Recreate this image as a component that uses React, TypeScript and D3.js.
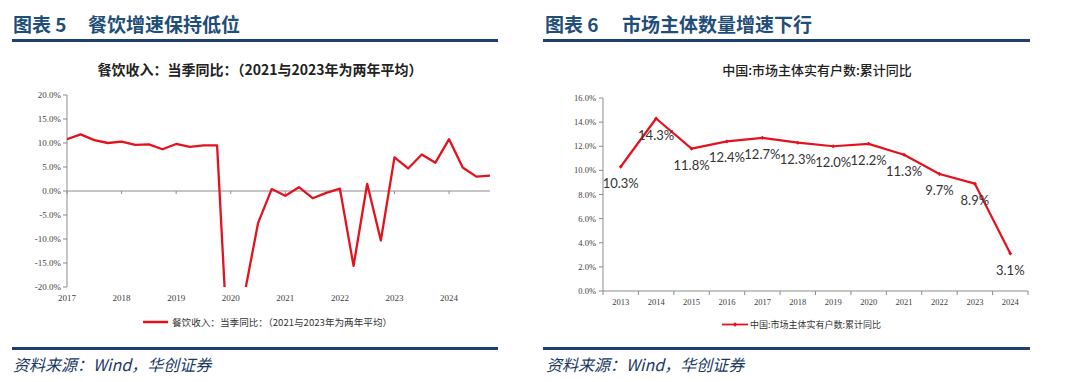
import React from "react";
import * as d3 from "d3";

// ---------- Left chart data ----------
const leftQuarters: string[] = [
  "2017Q1","2017Q2","2017Q3","2017Q4",
  "2018Q1","2018Q2","2018Q3","2018Q4",
  "2019Q1","2019Q2","2019Q3","2019Q4",
  "2020Q1","2020Q2","2020Q3","2020Q4",
  "2021Q1","2021Q2","2021Q3","2021Q4",
  "2022Q1","2022Q2","2022Q3","2022Q4",
  "2023Q1","2023Q2","2023Q3","2023Q4",
  "2024Q1","2024Q2","2024Q3","2024Q4",
];
const leftValues: number[] = [
  10.8, 11.8, 10.6, 10.0,
  10.3, 9.6, 9.7, 8.7,
  9.8, 9.2, 9.5, 9.5,
  -44.3, -21.6, -6.7, 0.4,
  -1.0, 0.8, -1.5, -0.4,
  0.5, -15.6, 1.5, -10.3,
  7.0, 4.7, 7.6, 5.9,
  10.8, 4.9, 3.0, 3.2,
];
const leftYearLabels: string[] = ["2017","2018","2019","2020","2021","2022","2023","2024"];
const leftYTicks: number[] = [20, 15, 10, 5, 0, -5, -10, -15, -20];
const leftTitle = "餐饮收入：当季同比：（2021与2023年为两年平均）";
const leftLegend = "餐饮收入：当季同比：（2021与2023年为两年平均）";

// ---------- Right chart data ----------
const rightYears: string[] = ["2013","2014","2015","2016","2017","2018","2019","2020","2021","2022","2023","2024"];
const rightValues: number[] = [10.3, 14.3, 11.8, 12.4, 12.7, 12.3, 12.0, 12.2, 11.3, 9.7, 8.9, 3.1];
const rightYTicks: number[] = [0, 2, 4, 6, 8, 10, 12, 14, 16];
const rightTitle = "中国:市场主体实有户数:累计同比";
const rightLegend = "中国:市场主体实有户数:累计同比";

const headerLeftNum = "图表 5";
const headerLeftText = "餐饮增速保持低位";
const headerRightNum = "图表 6";
const headerRightText = "市场主体数量增速下行";
const sourceText = "资料来源：Wind，华创证券";

const RED = "#E3121E";
const BLUE_TEXT = "#1F4E79";
const BLUE_RULE = "#1F3F73";
const SOURCE_COLOR = "#203864";
const AXIS = "#8C8C8C";
const LABEL = "#404040";
const SERIF = "'Liberation Serif', 'Noto Sans CJK SC', serif";
const CJK = "'Noto Sans CJK SC', 'Liberation Serif', serif";

function LeftChart() {
  const x0 = 67, x1 = 490, yTop = 95, yBot = 287;
  const x = d3.scaleLinear().domain([0, leftQuarters.length - 1]).range([x0, x1]);
  const y = d3.scaleLinear().domain([-20, 20]).range([yBot, yTop]);
  const line = d3.line<number>().x((_, i) => x(i)).y((d) => y(d));
  const fmt = (v: number) => v.toFixed(1) + "%";
  return (
    <g>
      <defs>
        <clipPath id="leftClip">
          <rect x={x0} y={yTop} width={x1 - x0} height={yBot - yTop} />
        </clipPath>
      </defs>
      <text x={260} y={75} textAnchor="middle" fontFamily={CJK} fontSize={14} fontWeight={700} fill="#222">
        {leftTitle}
      </text>
      {/* y axis */}
      <line x1={x0} x2={x0} y1={yTop} y2={yBot} stroke={AXIS} strokeWidth={1} />
      {leftYTicks.map((t) => (
        <g key={t}>
          <line x1={x0 - 4} x2={x0} y1={y(t)} y2={y(t)} stroke={AXIS} />
          <text x={x0 - 6} y={y(t) + 3} textAnchor="end" fontFamily={SERIF} fontSize={9} fill={LABEL}>
            {fmt(t)}
          </text>
        </g>
      ))}
      {/* zero axis line */}
      <line x1={x0} x2={x1} y1={y(0)} y2={y(0)} stroke="#8C8C8C" strokeWidth={1} />
      {leftYearLabels.map((lab, k) => (
        <g key={lab}>
          <line x1={x(k * 4)} x2={x(k * 4)} y1={y(0)} y2={y(0) + 3} stroke={AXIS} />
          <text x={x(k * 4)} y={301} textAnchor="middle" fontFamily={SERIF} fontSize={9} fill={LABEL}>
            {lab}
          </text>
        </g>
      ))}
      <path d={line(leftValues) || ""} fill="none" stroke={RED} strokeWidth={2.3} strokeLinejoin="round" clipPath="url(#leftClip)" />
      {/* legend */}
      <line x1={143} x2={168} y1={322} y2={322} stroke={RED} strokeWidth={2.5} />
      <text x={172} y={325.5} fontFamily={CJK} fontSize={9.6} fill="#333">
        {leftLegend}
      </text>
    </g>
  );
}

function RightChart() {
  const x0 = 603, x1 = 1028, yTop = 98, yBot = 291;
  const x = d3.scaleBand<string>().domain(rightYears).range([x0, x1]);
  const y = d3.scaleLinear().domain([0, 16]).range([yBot, yTop]);
  const cx = (d: string) => (x(d) || 0) + x.bandwidth() / 2;
  const line = d3.line<number>().x((_, i) => cx(rightYears[i])).y((d) => y(d));
  const boundaries = rightYears.map((d) => x(d) || 0).concat([x1]);
  const marker = (px: number, py: number, s: number) =>
    `M${px},${py - s}L${px + s},${py}L${px},${py + s}L${px - s},${py}Z`;
  return (
    <g>
      <text x={817} y={75} textAnchor="middle" fontFamily={CJK} fontSize={13} fontWeight={500} fill="#222">
        {rightTitle}
      </text>
      <line x1={x0} x2={x0} y1={yTop} y2={yBot} stroke={AXIS} />
      {rightYTicks.map((t) => (
        <g key={t}>
          <line x1={x0 - 4} x2={x0} y1={y(t)} y2={y(t)} stroke={AXIS} />
          <text x={x0 - 7} y={y(t) + 3} textAnchor="end" fontFamily={SERIF} fontSize={8.5} fill={LABEL}>
            {t.toFixed(1) + "%"}
          </text>
        </g>
      ))}
      <line x1={x0} x2={x1} y1={yBot} y2={yBot} stroke={AXIS} />
      {boundaries.map((b, i) => (
        <line key={i} x1={b} x2={b} y1={yBot} y2={yBot + 4} stroke={AXIS} />
      ))}
      {rightYears.map((d) => (
        <text key={d} x={cx(d)} y={305} textAnchor="middle" fontFamily={SERIF} fontSize={8.5} fill={LABEL}>
          {d}
        </text>
      ))}
      <path d={line(rightValues) || ""} fill="none" stroke={RED} strokeWidth={2.2} strokeLinejoin="round" />
      {rightValues.map((v, i) => (
        <path key={"m" + i} d={marker(cx(rightYears[i]), y(v), 2)} fill={RED} />
      ))}
      {rightValues.map((v, i) => (
        <text key={"l" + i} x={cx(rightYears[i])} y={y(v) + 21} textAnchor="middle" fontFamily="Lato, 'Open Sans', sans-serif" fontSize={13} fill="#333">
          {v.toFixed(1) + "%"}
        </text>
      ))}
      {/* legend */}
      <line x1={722} x2={748} y1={324.5} y2={324.5} stroke={RED} strokeWidth={1.8} />
      <path d={marker(735, 324.5, 2.2)} fill={RED} />
      <text x={750} y={327.8} fontFamily={CJK} fontSize={9} fill="#333">
        {rightLegend}
      </text>
    </g>
  );
}

export default function App() {
  return (
    <svg
      width={1080}
      height={382}
      viewBox="0 0 1080 382"
      style={{ position: "absolute", left: 0, top: 0, background: "#fff" }}
    >
      <rect x={0} y={0} width={1080} height={382} fill="#fff" />
      {/* headers */}
      <text x={13} y={32} fontFamily={CJK} fontSize={19} fontWeight={700} fill={BLUE_TEXT}>{headerLeftNum}</text>
      <text x={88} y={32} fontFamily={CJK} fontSize={19} fontWeight={700} fill={BLUE_TEXT}>{headerLeftText}</text>
      <text x={545} y={32} fontFamily={CJK} fontSize={19} fontWeight={700} fill={BLUE_TEXT}>{headerRightNum}</text>
      <text x={622} y={32} fontFamily={CJK} fontSize={19} fontWeight={700} fill={BLUE_TEXT}>{headerRightText}</text>
      <rect x={12} y={39} width={486} height={3} fill={BLUE_RULE} />
      <rect x={543} y={39} width={487} height={3} fill={BLUE_RULE} />

      <LeftChart />
      <RightChart />

      {/* footer rules & source */}
      <rect x={12} y={347} width={486} height={3} fill={BLUE_RULE} />
      <rect x={543} y={347} width={487} height={3} fill={BLUE_RULE} />
      <text x={13} y={371} fontFamily={CJK} fontSize={16} fontStyle="italic" fill={SOURCE_COLOR}>{sourceText}</text>
      <text x={546} y={371} fontFamily={CJK} fontSize={16} fontStyle="italic" fill={SOURCE_COLOR}>{sourceText}</text>
    </svg>
  );
}
